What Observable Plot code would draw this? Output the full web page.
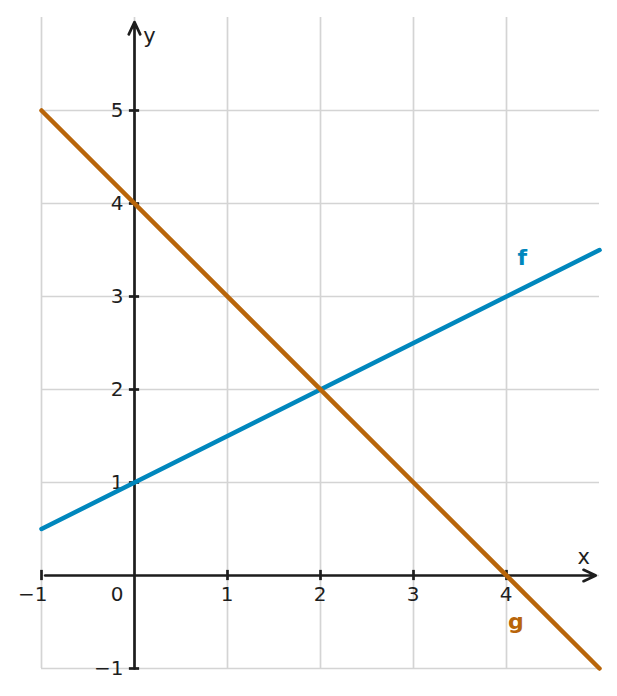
<!DOCTYPE html>
<html>
<head>
<meta charset="utf-8">
<script src="https://cdn.jsdelivr.net/npm/d3@7"></script>
<script src="https://cdn.jsdelivr.net/npm/@observablehq/plot@0.6"></script>
<style>
  html, body { margin: 0; padding: 0; background: #fff; }
</style>
</head>
<body>
<div id="chart"></div>
<script>
// Data
const xGrid = [-1, 0, 1, 2, 3, 4];
const yGrid = [-1, 0, 1, 2, 3, 4, 5];
const xTicks = [-1, 1, 2, 3, 4];
const yTicks = [-1, 1, 2, 3, 4, 5];
const xTickLabels = ["−1", "1", "2", "3", "4"];
const yTickLabels = ["−1", "1", "2", "3", "4", "5"];
const originLabel = "0";

// function lines (endpoints)
const fX = [-1, 5];
const fY = [0.5, 3.5];
const gX = [-1, 5];
const gY = [5, -1];

const seriesNames = ["f", "g"];
const seriesColors = ["#0087bd", "#b8650a"];
const seriesLabelX = [4.17, 4.10];
const seriesLabelY = [3.41, -0.5];

const axisNames = ["x", "y"];
const axisNameX = [4.83, 0.16];
const axisNameY = [0.2, 5.8];

const axisArrows = [
  {x1: -0.96, y1: 0, x2: 4.96, y2: 0},
  {x1: 0, y1: -1, x2: 0, y2: 5.95}
];

const fData = fX.map((x, i) => ({x, y: fY[i], s: "f"}));
const gData = gX.map((x, i) => ({x, y: gY[i], s: "g"}));
const lineData = fData.concat(gData);
const nameData = seriesNames.map((n, i) => ({n, x: seriesLabelX[i], y: seriesLabelY[i], c: seriesColors[i]}));
const axisNameData = axisNames.map((n, i) => ({n, x: axisNameX[i], y: axisNameY[i]}));

const ink = "#1e1e1e";
const tickHalf = 0.055;

const plot = Plot.plot({
  width: 617,
  height: 696,
  marginLeft: 41,
  marginRight: 18,
  marginTop: 17,
  marginBottom: 28,
  x: {domain: [-1, 5], axis: null},
  y: {domain: [-1, 6], axis: null},
  color: {domain: seriesNames, range: seriesColors},
  style: {fontFamily: "DejaVu Sans", fontSize: "20px", background: "white", color: ink},
  marks: [
    Plot.ruleX(xGrid, {stroke: "#d4d4d4", strokeWidth: 1.7}),
    Plot.ruleY(yGrid, {stroke: "#d4d4d4", strokeWidth: 1.7}),
    Plot.arrow(axisArrows, {x1: "x1", y1: "y1", x2: "x2", y2: "y2", stroke: ink, strokeWidth: 2.7, headAngle: 50, headLength: 7.5}),
    Plot.ruleX(xTicks, {x: d => d, y1: -tickHalf, y2: tickHalf, stroke: ink, strokeWidth: 2.7}),
    Plot.ruleY(yTicks, {y: d => d, x1: -tickHalf, x2: tickHalf, stroke: ink, strokeWidth: 2.7}),
    Plot.text(xTicks, {x: d => d, y: 0, text: (d, i) => xTickLabels[i], textAnchor: "end", dx: 6, dy: 19, fontSize: 20, fill: ink}),
    Plot.text(yTicks, {x: 0, y: d => d, text: (d, i) => yTickLabels[i], textAnchor: "end", dx: -11, fontSize: 20, fill: ink}),
    Plot.text([originLabel], {x: 0, y: 0, text: d => d, textAnchor: "end", dx: -11, dy: 19, fontSize: 20, fill: ink}),
    Plot.text(axisNameData, {x: "x", y: "y", text: "n", fontSize: 21, fill: ink}),
    Plot.line(lineData, {x: "x", y: "y", z: "s", stroke: "s", strokeWidth: 4.5}),
    Plot.text(nameData, {x: "x", y: "y", text: "n", fill: "c", fontSize: 22, fontWeight: "bold"})
  ]
});
document.getElementById("chart").appendChild(plot);
</script>
</body>
</html>
